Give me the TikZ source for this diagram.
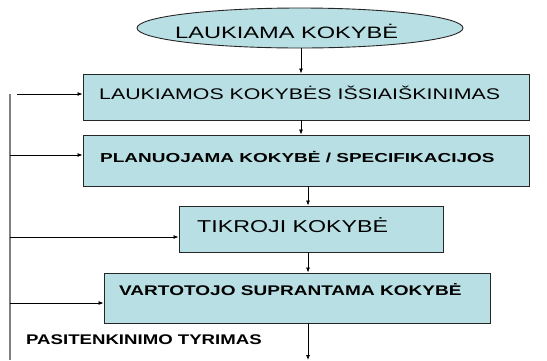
\documentclass[tikz,border=0pt]{standalone}
\usepackage{fontspec}
\setmainfont{Liberation Sans}
\usepackage{graphicx}
\usetikzlibrary{shapes.geometric,arrows.meta}
\definecolor{boxfill}{RGB}{184,223,227}
\definecolor{linegray}{RGB}{128,128,128}
\begin{document}
\begin{tikzpicture}[x=1pt,y=-1pt,
  box/.style={draw=black!85,line width=0.9pt,fill=boxfill,rectangle,inner sep=0pt},
  txt/.style={anchor=west,inner sep=0pt,text=black},
  arr/.style={draw=black,line width=0.8pt,-{Latex[length=5pt,width=4pt]}},
  gline/.style={draw=linegray,line width=1.4pt}]
\useasboundingbox (0,0) rectangle (547,360);
% ellipse
\node[ellipse,draw=black!85,line width=0.9pt,fill=boxfill,minimum width=326pt,minimum height=40pt,inner sep=0pt] (ell) at (300,28) {};
\node[txt] (tell) at (175,31) {\fontsize{16.5}{18}\selectfont\scalebox{1.43}[1]{LAUKIAMA KOKYBĖ}};
% boxes
\node[box,minimum width=446pt,minimum height=46pt] (b1) at (306,97) {};
\node[txt] (t1) at (99,92.5) {\fontsize{15.4}{17}\selectfont\scalebox{1.386}[1]{LAUKIAMOS KOKYBĖS IŠSIAIŠKINIMAS}};
\node[box,minimum width=446pt,minimum height=51pt] (b2) at (306,160.5) {};
\node[txt] (t2) at (100,157) {\fontsize{13}{15}\selectfont\bfseries\scalebox{1.46}[1]{PLANUOJAMA KOKYBĖ / SPECIFIKACIJOS}};
\node[box,minimum width=264pt,minimum height=46pt] (b3) at (311,229) {};
\node[txt] (t3) at (197,225) {\fontsize{17.2}{19}\selectfont\scalebox{1.35}[1]{TIKROJI KOKYBĖ}};
\node[box,minimum width=386pt,minimum height=50pt] (b4) at (297,298) {};
\node[txt] (t4) at (119,290) {\fontsize{14}{16}\selectfont\bfseries\scalebox{1.36}[1]{VARTOTOJO SUPRANTAMA KOKYBĖ}};
\node[txt] (lab) at (26,340) {\fontsize{14}{16}\selectfont\bfseries\scalebox{1.33}[1]{PASITENKINIMO TYRIMAS}};
% vertical arrows
\coordinate (cx1) at (301,0);
\coordinate (cx2) at (308,0);
\coordinate (bend) at (308,360);
\draw[arr] (ell.south -| cx1) -- (b1.north -| cx1);
\draw[arr] (b1.south -| cx1) -- (b2.north -| cx1);
\draw[arr] (b2.south -| cx2) -- (b3.north -| cx2);
\draw[arr] (b3.south -| cx2) -- (b4.north -| cx2);
\draw[arr] (b4.south -| cx2) -- (bend);
% feedback line
\coordinate (ltop) at (10,94);
\coordinate (lbot) at (10,360);
\draw[gline] (ltop) -- (lbot);
\coordinate (a1) at (17,94);
\coordinate (l2) at (10,155);
\coordinate (l3) at (10,237);
\coordinate (l4) at (10,303);
\draw[arr] (a1) -- (a1 -| b1.west);
\draw[arr] (l2) -- (l2 -| b2.west);
\draw[arr] (l3) -- (l3 -| b3.west);
\draw[arr] (l4) -- (l4 -| b4.west);
\end{tikzpicture}
\end{document}
